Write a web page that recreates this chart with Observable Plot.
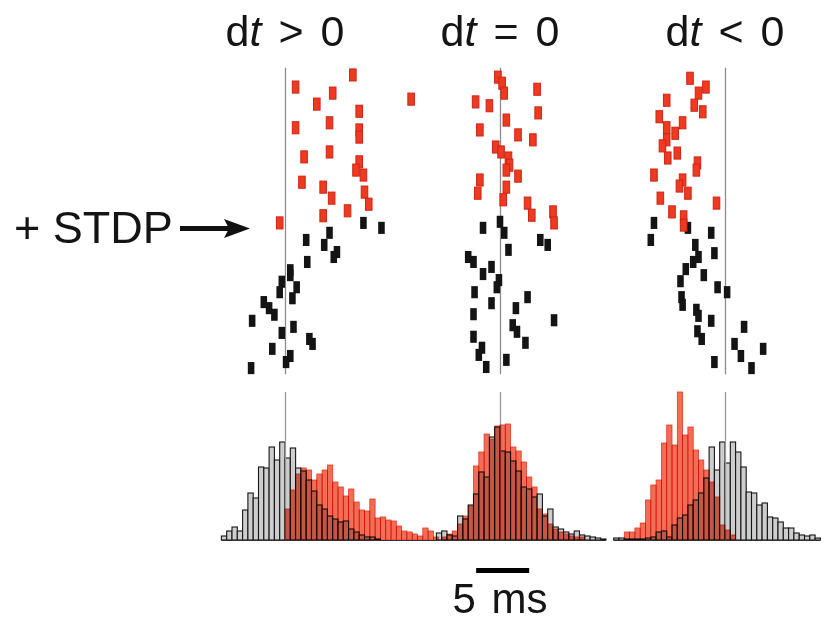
<!DOCTYPE html>
<html><head><meta charset="utf-8">
<script src="https://cdn.jsdelivr.net/npm/d3@7"></script>
<script src="https://cdn.jsdelivr.net/npm/@observablehq/plot@0.6"></script>
<style>
body{margin:0;background:#fff;}
#wrap{position:relative;width:825px;height:623px;overflow:hidden;background:#fff;}
#wrap svg{position:absolute;left:0;}
</style></head><body><div id="wrap"></div>
<script>
// ---------- data ----------
const columns = ["dt > 0", "dt = 0", "dt < 0"];
const stdpLabel = "+ STDP";
const scaleBarMs = 5;
const scaleBarLabel = "5 ms";

// raster: [spike time (ms, relative to reference), trial]
const stdpPos = [[6.4,0.9],[1.0,3.1],[4.5,4.2],[11.9,5.3],[3.0,6.2],[7.0,7.5],[4.2,9.6],[1.0,10.5],[7.0,10.9],[7.0,12.2],[4.2,14.9],[1.8,15.8],[7.0,16.7],[6.7,18.2],[7.4,19.1],[1.6,20.4],[3.6,21.3],[7.5,22.2],[4.4,23.3],[7.9,24.4],[5.9,25.6],[3.6,26.5],[-0.5,27.8]];
const ctrlPos = [[7.4,27.8],[9.1,28.7],[4.2,29.6],[2.0,30.9],[3.7,31.8],[4.9,33.1],[4.6,34.0],[2.1,34.9],[0.5,36.4],[0.5,37.3],[-0.3,38.5],[1.1,39.5],[-0.5,40.4],[0.7,41.5],[-2.0,42.2],[-1.5,43.3],[-1.0,44.5],[-3.1,45.6],[0.8,46.7],[-0.3,47.8],[2.3,48.9],[2.6,49.8],[-1.2,50.7],[0.5,52.0],[0.1,53.1],[-3.2,54.2]];
const stdpZero = [[-0.2,1.3],[0.2,2.4],[0.4,4.2],[3.5,3.5],[-2.3,5.8],[-1.0,6.5],[3.6,7.8],[0.6,9.1],[-1.9,10.9],[1.7,11.8],[3.1,12.7],[-0.4,14.0],[0.1,14.9],[0.8,16.0],[0.9,17.3],[0.6,18.2],[1.7,19.3],[-1.9,20.0],[0.6,21.3],[-2.1,22.4],[0.3,23.6],[2.6,24.2],[5.0,25.8],[3.0,26.4],[5.1,27.8]];
const ctrlZero = [[0.0,27.6],[-1.6,28.7],[0.4,29.6],[3.8,30.9],[4.5,31.8],[0.8,32.7],[-3.0,34.0],[-2.5,34.9],[-0.8,35.8],[-1.6,37.1],[-0.1,38.2],[-0.3,39.5],[-2.4,40.4],[2.6,41.3],[-0.8,42.4],[1.5,43.3],[-2.5,44.4],[5.1,45.5],[1.2,46.4],[1.6,47.6],[-2.5,48.5],[2.4,49.6],[-1.7,50.5],[-2.0,51.8],[0.6,52.7],[-1.3,54.0]];
const stdpNeg = [[-3.3,1.5],[-1.8,3.1],[-2.5,4.2],[-5.5,5.5],[-2.9,6.4],[-2.1,7.6],[-6.2,8.5],[-4.0,9.6],[-5.5,10.5],[-4.7,11.5],[-5.5,12.7],[-5.9,13.8],[-4.5,15.1],[-5.4,16.0],[-2.6,16.9],[-2.7,18.2],[-6.7,19.1],[-4.0,20.0],[-4.3,21.1],[-3.5,22.4],[-6.1,23.3],[-0.8,24.2],[-5.0,25.8],[-3.9,26.7],[-3.9,28.2]];
const ctrlNeg = [[-6.7,27.8],[-3.5,28.7],[-1.3,29.6],[-7.0,30.9],[-2.8,31.8],[-1.0,33.3],[-2.5,34.0],[-3.0,34.9],[-3.7,36.2],[-2.0,37.3],[-4.2,38.4],[-0.7,39.5],[0.2,40.4],[-4.1,41.3],[-4.0,42.7],[-2.7,43.6],[-2.5,44.7],[-1.3,45.6],[1.8,46.7],[-2.6,47.5],[-2.2,48.9],[0.9,49.8],[3.6,50.7],[1.5,52.0],[-1.0,53.1],[2.5,54.2]];

// histograms: first-bin start (ms) and counts per 0.5 ms bin
const binWidth = 0.5;
const histStart = [-6, -6, -10.5];
const histCtrlPos = [4,9,13,9,30,47,42,73,72,93,80,98,82,92,72,69,60,49,35,31,24,21,18,19,11,8,5,3,3,1,0,0,0,0,0,0,0,0,0,0,0];
const histStdpPos = [0,0,0,0,0,0,0,0,0,0,0,0,31,50,66,72,70,60,66,70,75,58,53,44,51,38,30,29,41,22,23,20,19,14,9,8,6,4,12,9,3];
const histCtrlZero = [7,9,5,4,24,21,35,46,68,63,103,113,89,88,79,69,53,51,43,46,24,31,13,11,8,6,9,5,4,3,2,1];
const histStdpZero = [0,3,6,9,16,24,34,74,88,106,101,114,115,116,93,89,78,63,53,31,26,16,11,8,6,4,3,3,0,0,0,0];
const histCtrlNeg = [2,2,1,1,1,1,2,3,8,9,3,15,22,25,35,40,47,62,93,70,98,77,98,88,73,48,47,35,37,23,22,18,12,12,7,5,4,5,2];
const histStdpNeg = [0,0,8,8,12,17,40,55,60,97,115,95,148,105,113,90,80,70,58,43,15,10,5,0,0,0,0,0,0,0,0,0,0,0,0,0,0,0,0];

// ---------- layout ----------
const W = 825, H = 623;
const pxPerMs = 10.6;
const refMs = [285 / pxPerMs, 500 / pxPerMs, 725 / pxPerMs]; // where each column's t = 0 sits on the shared ms axis
const xScale = {domain: [0, W / pxPerMs], range: [0, W], axis: null};
const fontFamily = "'Liberation Sans', Arial, Helvetica, sans-serif";

const rasterSets = [[stdpPos, ctrlPos], [stdpZero, ctrlZero], [stdpNeg, ctrlNeg]];
const raster = [];
rasterSets.forEach(([stdp, ctrl], c) => {
  stdp.forEach(([t, trial]) => raster.push({x: refMs[c] + t, trial, group: "stdp"}));
  ctrl.forEach(([t, trial]) => raster.push({x: refMs[c] + t, trial, group: "ctrl"}));
});

const histSets = [[histCtrlPos, histStdpPos], [histCtrlZero, histStdpZero], [histCtrlNeg, histStdpNeg]];
const bars = [];
const ranges = [];
histSets.forEach(([ctrl, stdp], c) => {
  const x0 = refMs[c] + histStart[c];
  ctrl.forEach((n, i) => bars.push({x1: x0 + i * binWidth, x2: x0 + (i + 1) * binWidth, n, group: "ctrl"}));
  stdp.forEach((n, i) => bars.push({x1: x0 + i * binWidth, x2: x0 + (i + 1) * binWidth, n, group: "stdp"}));
  ranges.push({x1: x0, x2: x0 + ctrl.length * binWidth});
});

const halfW = 0.31, halfH = 1.1;
const rasterPlot = Plot.plot({
  width: W, height: 380, margin: 0,
  x: xScale,
  y: {domain: [0, 55], range: [70, 372.5], axis: null},
  marks: [
    Plot.ruleX(refMs, {y1: -0.4, y2: 55.3, stroke: "#8c8c8c", strokeWidth: 1.3}),
    Plot.rect(raster.filter(d => d.group === "ctrl"), {
      x1: d => d.x - halfW, x2: d => d.x + halfW, y1: d => d.trial - halfH, y2: d => d.trial + halfH,
      fill: "#141414"
    }),
    Plot.rect(raster.filter(d => d.group === "stdp"), {
      x1: d => d.x - halfW, x2: d => d.x + halfW, y1: d => d.trial - halfH, y2: d => d.trial + halfH,
      fill: "#ef3a22", stroke: "#cf2414", strokeWidth: 1
    })
  ]
});
rasterPlot.style.top = "0px";

const histPlot = Plot.plot({
  width: W, height: 243, margin: 0,
  x: xScale,
  y: {domain: [0, 148], range: [160, 12], axis: null},
  marks: [
    Plot.rect(bars.filter(d => d.group === "ctrl" && d.n > 0), {
      x1: "x1", x2: "x2", y1: 0, y2: "n", fill: "#cdcdcd", stroke: "#161616", strokeWidth: 1.1
    }),
    Plot.ruleX(refMs, {y1: 0, y2: 148, stroke: "#9a9a9a", strokeWidth: 1.3}),
    Plot.rect(bars.filter(d => d.group === "stdp" && d.n > 0), {
      x1: "x1", x2: "x2", y1: 0, y2: "n", fill: "#f36c55", stroke: "#e23a22", strokeWidth: 0.8,
      mixBlendMode: "multiply"
    }),
    Plot.ruleY(ranges, {x1: "x1", x2: "x2", y: 0, stroke: "#333", strokeWidth: 1.2}),
    Plot.ruleY([0], {x1: refMs[1] + 0.25 - scaleBarMs / 2, x2: refMs[1] + 0.25 + scaleBarMs / 2, dy: 30, stroke: "#000", strokeWidth: 5})
  ]
});
histPlot.style.top = "380px";

const wrap = document.getElementById("wrap");
wrap.appendChild(rasterPlot);
wrap.appendChild(histPlot);

// ---------- annotation text ----------
const svg = d3.create("svg").attr("width", W).attr("height", H).style("top", "0px")
  .style("font-family", fontFamily).style("fill", "#141414");
columns.forEach((label, c) => {
  const t = svg.append("text").attr("x", refMs[c] * pxPerMs).attr("y", 46)
    .attr("text-anchor", "middle").attr("font-size", 43).attr("word-spacing", 5);
  t.append("tspan").text("d");
  t.append("tspan").attr("font-style", "italic").text("t");
  t.append("tspan").text(label.slice(2));
});
svg.append("text").attr("x", 14).attr("y", 243).attr("font-size", 45).text(stdpLabel);
svg.append("path").attr("d", "M180,228.5 H232").attr("stroke", "#111").attr("stroke-width", 5);
svg.append("path").attr("d", "M224,219 L250,228.5 L224,238 L229,228.5 Z").attr("fill", "#111");
svg.append("text").attr("x", 500).attr("y", 613).attr("text-anchor", "middle")
  .attr("font-size", 42).attr("word-spacing", 4).text(scaleBarLabel);
wrap.appendChild(svg.node());
</script>
</body></html>
